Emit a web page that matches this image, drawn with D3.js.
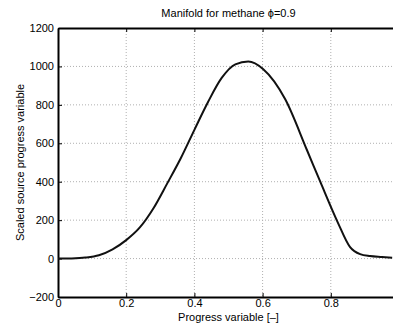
<!DOCTYPE html>
<html>
<head>
<meta charset="utf-8">
<script src="https://cdn.jsdelivr.net/npm/d3@7"></script>
<style>
  body { margin: 0; background: #fff; }
  svg { display: block; font-family: "Liberation Sans", Arial, sans-serif; }
</style>
</head>
<body>
<div id="chart"></div>
<script>
var width = 393,
    height = 328;

// progress variable (x) and scaled source (y)
var progress = [0, 0.04, 0.08, 0.12, 0.16, 0.2, 0.24, 0.28, 0.32, 0.36, 0.4, 0.44, 0.48, 0.52, 0.558, 0.602, 0.666, 0.73, 0.77, 0.82, 0.856, 0.886, 0.915, 0.95, 0.98];
var source   = [0, 1, 5, 17, 48, 96, 162, 262, 390, 522, 670, 815, 940, 1011, 1025, 985, 830, 565, 396, 190, 61, 23, 13, 8, 4];
var xTicks = [0, 0.2, 0.4, 0.6, 0.8];
var yTicks = [-200, 0, 200, 400, 600, 800, 1000, 1200];

var margin = {left: 58, top: 28, right: 399, bottom: 297};

var svg = d3.select('#chart').append('svg')
    .attr('width', width)
    .attr('height', height);

var xScale = d3.scaleLinear().domain([0, 1]).range([margin.left, margin.right]);
var yScale = d3.scaleLinear().domain([-200, 1200]).range([margin.bottom, margin.top]);

var g = svg.append('g');

// grid
g.selectAll('.vgrid').data(xTicks.slice(1))
  .enter().append('line').attr('class', 'vgrid')
    .attr('x1', d => xScale(d)).attr('x2', d => xScale(d))
    .attr('y1', margin.top).attr('y2', margin.bottom)
    .attr('stroke', '#b0b0b0').attr('stroke-width', 1)
    .attr('stroke-dasharray', '1,2');
g.selectAll('.hgrid').data(yTicks.slice(1, -1))
  .enter().append('line').attr('class', 'hgrid')
    .attr('y1', d => yScale(d)).attr('y2', d => yScale(d))
    .attr('x1', margin.left).attr('x2', margin.right)
    .attr('stroke', '#b0b0b0').attr('stroke-width', 1)
    .attr('stroke-dasharray', '1,2');

// axes (ticks inside, matlab style)
var fmtY = d => d < 0 ? '\u2212' + Math.abs(d) : String(d);

var xAxis = g.append('g')
    .attr('transform', 'translate(0,' + margin.bottom + ')')
    .call(d3.axisBottom(xScale).tickValues(xTicks).tickSizeInner(-4).tickSizeOuter(0).tickPadding(2)
      .tickFormat(d => d === 0 ? '0' : d3.format('.1f')(d)));
var xTop = g.append('g')
    .attr('transform', 'translate(0,' + margin.top + ')')
    .call(d3.axisTop(xScale).tickValues(xTicks).tickSizeInner(-4).tickSizeOuter(0).tickFormat(''));
var yAxis = g.append('g')
    .attr('transform', 'translate(' + margin.left + ',0)')
    .call(d3.axisLeft(yScale).tickValues(yTicks).tickSizeInner(-4).tickSizeOuter(0).tickPadding(4).tickFormat(fmtY));

[xAxis, xTop, yAxis].forEach(function(a) {
  a.select('.domain').attr('stroke', '#000').attr('stroke-width', 2);
  a.selectAll('.tick line').attr('stroke', '#000').attr('stroke-width', 1);
  a.selectAll('.tick text').attr('fill', '#000').style('font-size', '11px')
    .style('font-family', '"Liberation Sans", Arial, sans-serif');
});
xAxis.selectAll('.tick text').attr('dy', '0.71em');

// curve
var line = d3.line()
    .x(function(d, i) { return xScale(progress[i]); })
    .y(function(d) { return yScale(d); })
    .curve(d3.curveMonotoneX);

g.append('path').datum(source)
    .attr('d', line)
    .attr('fill', 'none')
    .attr('stroke', '#111')
    .attr('stroke-width', 2)
    .attr('stroke-linejoin', 'round');

// texts
svg.append('text')
    .attr('x', xScale(0.5)).attr('y', 17)
    .attr('text-anchor', 'middle')
    .style('font-size', '11px')
    .text('Manifold for methane \u03d5=0.9');

svg.append('text')
    .attr('x', xScale(0.5)).attr('y', 321)
    .attr('text-anchor', 'middle')
    .style('font-size', '11px')
    .text('Progress variable [\u2013]');

svg.append('text')
    .attr('transform', 'translate(24,' + ((margin.top + margin.bottom) / 2) + ') rotate(-90)')
    .attr('text-anchor', 'middle')
    .style('font-size', '11px')
    .text('Scaled source progress variable');
</script>
</body>
</html>
